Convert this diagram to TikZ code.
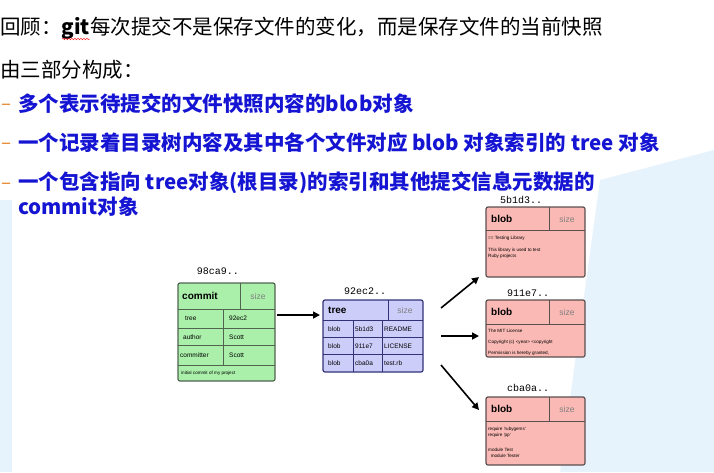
\documentclass[tikz,border=0pt]{standalone}
\usepackage{fontspec}
\setmainfont{Liberation Serif}
\newfontfamily\cjk{Noto Sans CJK SC}
\newfontfamily\tfont{Liberation Sans}
\newfontfamily\mfont{Liberation Mono}
\usetikzlibrary{arrows.meta,decorations.pathmorphing}
\definecolor{bl}{RGB}{20,20,210}
\definecolor{orng}{RGB}{230,120,20}
\definecolor{cg}{RGB}{170,240,170}
\definecolor{cgb}{RGB}{80,100,80}
\definecolor{tv}{RGB}{205,205,250}
\definecolor{tvb}{RGB}{50,50,120}
\definecolor{pk}{RGB}{250,185,180}
\definecolor{pkb}{RGB}{90,80,80}
\definecolor{bgb}{RGB}{215,235,250}
\tikzset{
 bul/.style={anchor=west,text=bl,font=\cjk\bfseries\fontsize{20.5}{24}\selectfont,inner sep=0},
 dashmark/.style={anchor=west,text=orng,font=\bfseries\fontsize{16}{18}\selectfont,inner sep=0},
 lbl/.style={font=\mfont\fontsize{10}{11}\selectfont,inner sep=0},
 hd/.style={font=\tfont\bfseries\fontsize{10}{11}\selectfont,anchor=west,inner sep=0},
 sz/.style={font=\tfont\fontsize{8.5}{9}\selectfont,text=gray,inner sep=0},
 cell/.style={font=\tfont\fontsize{6.5}{7}\selectfont,anchor=west,inner sep=0},
 tiny/.style={font=\tfont\fontsize{4.6}{5.8}\selectfont,anchor=west,inner sep=0,align=left},
 arr/.style={-{Triangle[length=7pt,width=7pt]},line width=1.6pt}
}
\begin{document}
\begin{tikzpicture}[x=1pt,y=-1pt]
\useasboundingbox (0,0) rectangle (714,472);
\fill[bgb!60] (0,200) rectangle (12,472);
\fill[bgb!60] (600,180) -- (714,150) -- (714,472) -- (560,472) -- cycle;
\node[anchor=west,inner sep=0,font=\cjk\fontsize{20.5}{24}\selectfont] (l1) at (0,28) {回顾：\textbf{git}每次提交不是保存文件的变化，而是保存文件的当前快照};
\draw[red,decorate,decoration={snake,amplitude=0.8pt,segment length=3pt}] (62,39) -- (90,39);
\node[anchor=west,inner sep=0,font=\cjk\fontsize{20.5}{24}\selectfont] (l2) at (0,70) {由三部分构成：};
\node[dashmark] (d1) at (2,106) {–};
\node[bul] (b1) at (18,104) {多个表示待提交的文件快照内容的blob对象};
\node[dashmark] (d2) at (2,145) {–};
\node[bul] (b2) at (18,143) {一个记录着目录树内容及其中各个文件对应 blob 对象索引的 tree 对象};
\node[dashmark] (d3) at (2,185) {–};
\node[bul] (b3) at (18,183) {一个包含指向 tree对象(根目录)的索引和其他提交信息元数据的};
\node[bul] (b4) at (18,207) {commit对象};
% commit
\node[lbl] (c0) at (218,271) {98ca9..};
\filldraw[fill=cg,draw=cgb,line width=1.2pt,rounded corners=2pt] (178,283) rectangle (275,381);
\draw[cgb,line width=0.8pt] (178,309)--(275,309) (240,283)--(240,309) (178,328)--(275,328) (178,345)--(275,345) (178,365)--(275,365) (223,309)--(223,365);
\node[hd] (c1) at (182,296) {commit}; \node[sz] (c2) at (258,296) {size};
\node[cell] at (185,318) {tree}; \node[cell] at (229,318) {92ec2};
\node[cell] at (183,337) {author}; \node[cell] at (229,337) {Scott};
\node[cell] at (180,355) {committer}; \node[cell] at (229,355) {Scott};
\node[tiny] at (181,373) {initial commit of my project};
\coordinate (ce) at (277,315);
% tree
\node[lbl] (t0) at (365,291) {92ec2..};
\filldraw[fill=tv,draw=tvb,line width=1.2pt,rounded corners=2pt] (323,300) rectangle (423,372);
\draw[tvb,line width=0.8pt] (323,320)--(423,320) (388,300)--(388,320) (323,337)--(423,337) (323,354)--(423,354) (353,320)--(353,372) (382,320)--(382,372);
\node[hd] (tr) at (328,310) {tree}; \node[sz] at (405,310) {size};
\node[cell] at (328,329) {blob}; \node[cell] at (355,329) {5b1d3}; \node[cell] at (384,329) {README};
\node[cell] at (328,346) {blob}; \node[cell] at (355,346) {911e7}; \node[cell] at (384,346) {LICENSE};
\node[cell] at (328,363) {blob}; \node[cell] at (355,363) {cba0a}; \node[cell] at (384,363) {test.rb};
\coordinate (tw) at (320,315);
\draw[arr] (ce) -- (tw);
% blobs
\node[lbl] at (521,200) {5b1d3..};
\filldraw[fill=pk,draw=pkb,line width=1.2pt,rounded corners=2pt] (486,207) rectangle (585,277);
\draw[pkb,line width=0.8pt] (486,230)--(585,230) (549,207)--(549,230);
\node[hd] at (491,219) {blob}; \node[sz] at (567,219) {size};
\node[tiny] at (488,238) {== Testing Library};
\node[tiny] at (488,253) {This library is used to test\\Ruby projects};
\node[lbl] at (528,293) {911e7..};
\filldraw[fill=pk,draw=pkb,line width=1.2pt,rounded corners=2pt] (486,300) rectangle (585,357);
\draw[pkb,line width=0.8pt] (486,324)--(585,324) (549,300)--(549,324);
\node[hd] at (491,312) {blob}; \node[sz] at (567,312) {size};
\node[tiny] at (488,331) {The MIT License};
\node[tiny] at (488,342) {Copyright (c) <year> <copyright};
\node[tiny] at (488,353) {Permission is hereby granted,};
\node[lbl] at (528,388) {cba0a..};
\filldraw[fill=pk,draw=pkb,line width=1.2pt,rounded corners=2pt] (486,397) rectangle (585,465);
\draw[pkb,line width=0.8pt] (486,421)--(585,421) (549,397)--(549,421);
\node[hd] at (491,409) {blob}; \node[sz] at (567,409) {size};
\node[tiny] at (488,432) {require 'rubygems'\\require 'pp'};
\node[tiny] at (488,453) {module Test\\\ \ module Tester};
\coordinate (a1s) at (441,308); \coordinate (a1e) at (479,277);
\coordinate (a2s) at (441,336); \coordinate (a2e) at (479,336);
\coordinate (a3s) at (441,365); \coordinate (a3e) at (479,410);
\draw[arr] (a1s)--(a1e); \draw[arr] (a2s)--(a2e); \draw[arr] (a3s)--(a3e);
\end{tikzpicture}
\end{document}
